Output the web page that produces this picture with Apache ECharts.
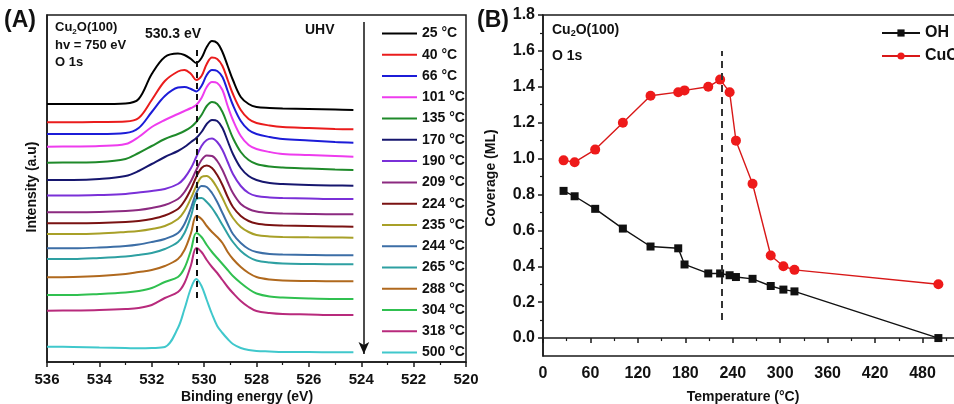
<!DOCTYPE html>
<html>
<head>
<meta charset="utf-8">
<script src="https://cdn.jsdelivr.net/npm/echarts@6/dist/echarts.min.js"></script>
<style>html,body{margin:0;padding:0;background:#fff;}#c{width:954px;height:404px;}</style>
</head>
<body>
<div id="c"></div>
<script>
// ---------- Panel A: O 1s spectra (binding energy, intensity a.u.) ----------
const energies = [536, 535, 534, 533, 532.5, 532, 531.5, 531, 530.75, 530.5, 530.3, 530.1, 529.9, 529.7, 529.5, 529.3, 529.1, 528.9, 528.6, 528.3, 528, 527.5, 527, 526, 525, 524.3];
const spectraLabels = ['25 °C','40 °C','66 °C','101 °C','135 °C','170 °C','190 °C','209 °C','224 °C','235 °C','244 °C','265 °C','288 °C','304 °C','318 °C','500 °C'];
const i25  = [258,258,258,258.5,263,288,305,308.5,307,303,299,304,315,321,319,310,296,282,265,258,255,254,253.5,253,252.5,252];
const i40  = [239.7,239.7,240,240.5,244,262,281,290.5,292,288,282,286,298,304.5,303,296,282,268,252,243,239,236.5,235,234,233,232.7];
const i66  = [228,228,228,229,234,250,266,274.5,275,273,270.5,276,287,292,291,285,271,257,241,232,228,225,223,221.5,220,219.3];
const i101 = [215.3,215.5,216,218,225,235,242,248,251,254,257,264,275,280,279,272,256,242,226,217,213,210,208,207,206,205.3];
const i135 = [199.3,199.5,200,203,209,216,223,228,231,235,240,247,256,260,258,250,237,224,210,202,198,195.5,194.5,193.5,192.5,192];
const i170 = [182,182,183,186,191,198,205,211,215,220,224,230,238,242,241,234,221,208,194,186,182,179,178,177,176.5,176.3];
const i190 = [166.5,166.5,167,168,169.5,171,173,178,184,194,205,216,222,223.5,220,212,200,188,176,169,166,164.5,164,163.5,163,163];
const i209 = [149.7,149.7,150,151,152,154,157,163,170,181,192,202,206.5,206,201,192,180,169,158,153,150.5,149,148.5,148,147.7,147.7];
const i224 = [138.7,138.7,139,140,141,143,146.5,153,161,173,185,194,196.5,194,187,177,165,155,146,141,138.5,137,136.5,136,135.5,135.3];
const i235 = [128,128,128.5,130,131,133,136,143,151,164,176,185,186,182,174,164,153,144,135,130,127,125.5,125,124.7,124.5,124.3];
const i244 = [113.7,113.7,114.5,116,117.5,120,123,129,138,154,169,176,175,169,160,149,138,128,119,113,110,108,107.5,107,106.7,106.7];
const i265 = [103,103,104,105.5,107,109,113,120,129,146,163,164,160,154,146,137,128,120,111,105,101.5,99.5,98.5,98,97.7,97.7];
const i288 = [84.7,85,86,88,90,92,96,103,112,129,146,143,136,130,125,119,110,103,95,89,85,82.5,81.5,81,80.7,80.7];
const i304 = [67,67,68,69.5,71,74,80,85,94,112,129,125,117,110,104,98,92,86,79,73,68.5,65.5,64.5,63.5,63,63];
const i318 = [51.3,51.5,52,53,54,57,64,70,79,97,114,110,102,95,89,82,75,69,61,55,51,49,48,47.5,47,47];
const i500 = [15.3,15,14.5,14,13.7,14,15,34,53,74,83,76,62,48,36,29,23,18,14,12,11,10.5,10,10,9.7,9.7];
const spectra = [i25,i40,i66,i101,i135,i170,i190,i209,i224,i235,i244,i265,i288,i304,i318,i500];
const spectraColors = ['#000000','#ea1c1c','#1c1cd8','#ee3cee','#1f8a2a','#16166e','#7a30d8','#8c2a80','#7a1212','#a8a028','#3c6ea6','#2ea0a2','#b0691e','#30c050','#b82a7c','#40c8cc'];
const peakEnergy = 530.3;

// ---------- Panel B: coverage vs temperature ----------
const temperatures = [26, 40, 66, 101, 136, 171, 179, 209, 224, 236, 244, 265, 288, 304, 318, 500];
const ohCoverage  = [0.82, 0.79, 0.72, 0.61, 0.51, 0.50, 0.41, 0.36, 0.36, 0.35, 0.34, 0.33, 0.29, 0.27, 0.26, 0.00];
const cuoCoverage = [0.99, 0.98, 1.05, 1.20, 1.35, 1.37, 1.38, 1.40, 1.44, 1.37, 1.10, 0.86, 0.46, 0.40, 0.38, 0.30];
const transitionTemp = 226;

const FF = '"Liberation Sans", Arial, sans-serif';
const AX = '#1a1a1a';

const seriesA = spectra.map((arr, k) => ({
  name: spectraLabels[k], type: 'line', xAxisIndex: 0, yAxisIndex: 0,
  data: energies.map((e, i) => [e, arr[i]]),
  symbol: 'none', showSymbol: false, smooth: 0.35,
  lineStyle: { width: 2, color: spectraColors[k] }, itemStyle: { color: spectraColors[k] },
  silent: true, z: 3
}));
seriesA[0].markLine = {
  silent: true, symbol: 'none', label: { show: false },
  lineStyle: { color: '#111', width: 2, type: [6, 5] },
  data: [[{ coord: [peakEnergy, 312] }, { coord: [peakEnergy, 59] }]]
};
seriesA[15].markLine = {
  silent: true, symbol: ['none', 'arrow'], symbolSize: [8, 12], label: { show: false },
  lineStyle: { color: '#111', width: 1.5, type: 'solid' },
  data: [[{ coord: [523.9, 340] }, { coord: [523.9, 8] }]]
};

const seriesB = [
  { name: 'OH', type: 'line', xAxisIndex: 1, yAxisIndex: 1,
    data: temperatures.map((t, i) => [t, ohCoverage[i]]),
    symbol: 'rect', symbolSize: 8, lineStyle: { width: 1.4, color: '#111' }, itemStyle: { color: '#111' },
    markLine: { silent: true, symbol: 'none', label: { show: false },
      lineStyle: { color: '#333', width: 2, type: [7, 5] },
      data: [[{ coord: [transitionTemp, 0.1] }, { coord: [transitionTemp, 1.6] }]] } },
  { name: 'CuO', type: 'line', xAxisIndex: 1, yAxisIndex: 1,
    data: temperatures.map((t, i) => [t, cuoCoverage[i]]),
    symbol: 'circle', symbolSize: 10, lineStyle: { width: 1.4, color: '#d81818' }, itemStyle: { color: '#ee1a1a' } }
];

const axisLbl = { fontFamily: FF, fontWeight: 'bold', color: '#111' };
const even2 = [0, 0.2, 0.4, 0.6, 0.8, 1.0, 1.2, 1.4, 1.6, 1.8];
const odd2 = [0.1, 0.3, 0.5, 0.7, 0.9, 1.1, 1.3, 1.5, 1.7];

const option = {
  animation: false,
  backgroundColor: '#fff',
  grid: [
    { left: 47, top: 15, width: 419, height: 347, show: true, borderColor: AX, borderWidth: 1.5, backgroundColor: 'transparent', outerBoundsMode: 'none', containLabel: false },
    { left: 543, top: 15, width: 427, height: 341, show: true, borderColor: AX, borderWidth: 1.5, backgroundColor: 'transparent', outerBoundsMode: 'none', containLabel: false }
  ],
  xAxis: [
    { gridIndex: 0, type: 'value', min: 520, max: 536, interval: 2, inverse: true,
      axisLine: { lineStyle: { color: AX, width: 1.5 } },
      axisTick: { length: 5, lineStyle: { color: AX, width: 1.5 } },
      minorTick: { show: true, splitNumber: 2, length: 3, lineStyle: { color: AX, width: 1.2 } },
      axisLabel: Object.assign({ fontSize: 15, margin: 10 }, axisLbl), splitLine: { show: false } },
    { gridIndex: 1, type: 'value', min: 0, max: 540, interval: 60,
      axisLine: { lineStyle: { color: AX, width: 1.5 } },
      axisTick: { length: 5, lineStyle: { color: AX, width: 1.5 } },
      minorTick: { show: true, splitNumber: 2, length: 3, lineStyle: { color: AX, width: 1.2 } },
      axisLabel: Object.assign({ fontSize: 16, margin: 10 }, axisLbl), splitLine: { show: false } }
  ],
  yAxis: [
    { gridIndex: 0, type: 'value', min: 0, max: 347,
      axisLine: { show: true, lineStyle: { color: AX, width: 1.5 } }, axisTick: { show: false },
      axisLabel: { show: false }, splitLine: { show: false } },
    { gridIndex: 1, type: 'value', min: -0.1, max: 1.8, interval: 0.1,
      axisLine: { show: true, lineStyle: { color: AX, width: 1.5 } },
      axisTick: { length: 5, customValues: even2, lineStyle: { color: AX, width: 1.5 } },
      axisLabel: Object.assign({ fontSize: 16, margin: 8, customValues: even2,
        formatter: v => { const r = Math.round(v * 10); return (r >= 0 && r % 2 === 0) ? (r / 10).toFixed(1) : ''; } }, axisLbl),
      splitLine: { show: false } },
    { gridIndex: 1, type: 'value', min: -0.1, max: 1.8, interval: 0.1, position: 'left',
      axisLine: { show: false },
      axisTick: { length: 3, customValues: odd2, lineStyle: { color: AX, width: 1.2 } },
      axisLabel: { show: false }, splitLine: { show: false } }
  ],
  legend: [
    { data: spectraLabels, orient: 'vertical', left: 376, top: 21.5, itemWidth: 35, itemHeight: 14, itemGap: 7.27,
      itemStyle: { opacity: 0 }, textStyle: { fontFamily: FF, fontWeight: 'bold', fontSize: 14, color: '#111' }, selectedMode: false },
    { data: ['OH', 'CuO'], orient: 'vertical', left: 876, top: 20, itemWidth: 38, itemHeight: 9, itemGap: 7,
      textStyle: { fontFamily: FF, fontWeight: 'bold', fontSize: 16, color: '#111' }, selectedMode: false }
  ],
  series: seriesA.concat(seriesB),
  graphic: [
    { type: 'text', left: 4, top: 9, style: { text: '(A)', font: 'bold 23px ' + FF, fill: '#111' } },
    { type: 'text', left: 477, top: 9, style: { text: '(B)', font: 'bold 23px ' + FF, fill: '#111' } },
    { type: 'text', left: 55, top: 21, style: { text: '{a|Cu}{s|2}{a|O(100)}', fill: '#111',
      rich: { a: { font: 'bold 13px ' + FF, fill: '#111' }, s: { font: 'bold 8px ' + FF, fill: '#111', padding: [8, 0, 0, 0] } } } },
    { type: 'text', left: 55, top: 39, style: { text: 'hv = 750 eV', font: 'bold 13px ' + FF, fill: '#111' } },
    { type: 'text', left: 55, top: 56, style: { text: 'O 1s', font: 'bold 13px ' + FF, fill: '#111' } },
    { type: 'text', left: 145, top: 27, style: { text: '530.3 eV', font: 'bold 14px ' + FF, fill: '#111' } },
    { type: 'text', left: 305, top: 23, style: { text: 'UHV', font: 'bold 14px ' + FF, fill: '#111' } },
    { type: 'text', left: 552, top: 23, style: { text: '{a|Cu}{s|2}{a|O(100)}', fill: '#111',
      rich: { a: { font: 'bold 14px ' + FF, fill: '#111' }, s: { font: 'bold 9px ' + FF, fill: '#111', padding: [8, 0, 0, 0] } } } },
    { type: 'text', left: 552, top: 49, style: { text: 'O 1s', font: 'bold 14px ' + FF, fill: '#111' } },
    { type: 'text', x: 247, y: 397, style: { text: 'Binding energy (eV)', font: 'bold 14px ' + FF, fill: '#111', align: 'center', verticalAlign: 'middle' } },
    { type: 'text', x: 743, y: 397, style: { text: 'Temperature (°C)', font: 'bold 14px ' + FF, fill: '#111', align: 'center', verticalAlign: 'middle' } },
    { type: 'text', x: 32, y: 187, rotation: Math.PI / 2, style: { text: 'Intensity (a.u)', font: 'bold 14px ' + FF, fill: '#111', align: 'center', verticalAlign: 'middle' } },
    { type: 'text', x: 491, y: 178, rotation: Math.PI / 2, style: { text: 'Coverage (ML)', font: 'bold 14px ' + FF, fill: '#111', align: 'center', verticalAlign: 'middle' } }
  ]
};
const chart = echarts.init(document.getElementById('c'), null, { renderer: 'canvas' });
chart.setOption(option);
</script>
</body>
</html>
